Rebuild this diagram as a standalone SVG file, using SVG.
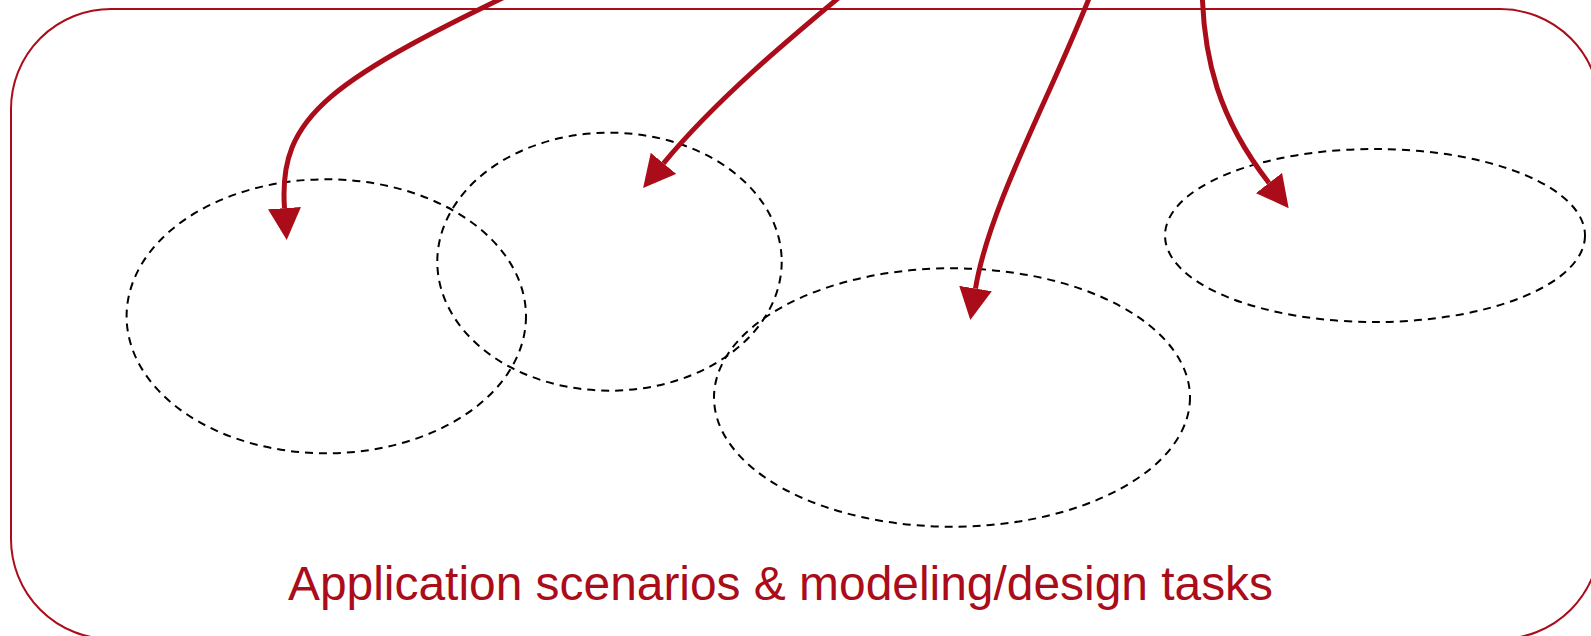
<svg xmlns="http://www.w3.org/2000/svg" width="1591" height="636" viewBox="0 0 1591 636">
  <style>
    .frame { fill: none; stroke: #AB0C1A; stroke-width: 2; }
    .area { fill: none; stroke: #000000; stroke-width: 2; stroke-dasharray: 8 6; }
    .conn { fill: none; stroke: #AB0C1A; stroke-width: 5; marker-end: url(#arrow); }
    .label { fill: #AB0C1A; font-family: "Liberation Sans", Arial, sans-serif; font-size: 48px; }
  </style>
  <defs>
    <marker id="arrow" viewBox="0 0 32 33" markerWidth="32" markerHeight="33" refX="0" refY="16.5" orient="auto" markerUnits="userSpaceOnUse">
      <path d="M0,0 L32,16.5 L0,33 z" fill="#AB0C1A"/>
    </marker>
  </defs>
  <rect width="1591" height="636" fill="#ffffff"/>

  <g id="container">
    <rect class="frame" x="11" y="9" width="1589" height="630" rx="100" ry="100"/>
    <text class="label" x="288" y="600" textLength="985" lengthAdjust="spacingAndGlyphs">Application scenarios &amp; modeling/design tasks</text>
  </g>

  <g id="area1">
    <ellipse class="area" cx="326.3" cy="316.3" rx="199.7" ry="137"/>
  </g>
  <g id="area2">
    <ellipse class="area" cx="609.5" cy="261.7" rx="172.2" ry="129"/>
  </g>
  <g id="area3">
    <ellipse class="area" cx="952" cy="397.5" rx="238" ry="129.2"/>
  </g>
  <g id="area4">
    <ellipse class="area" cx="1375" cy="235.5" rx="210" ry="86.5"/>
  </g>

  <g id="connectors">
    <path class="conn" d="M540,-20 C330,80 278,115 284.5,208.2"/>
    <path class="conn" d="M860,-20 C800,30 720,95 663.5,163.3"/>
    <path class="conn" d="M1100,-30 C1060,80 990,200 975.5,288.5"/>
    <path class="conn" d="M1202,-20 C1202,60 1220,120 1269,183"/>
  </g>
</svg>
